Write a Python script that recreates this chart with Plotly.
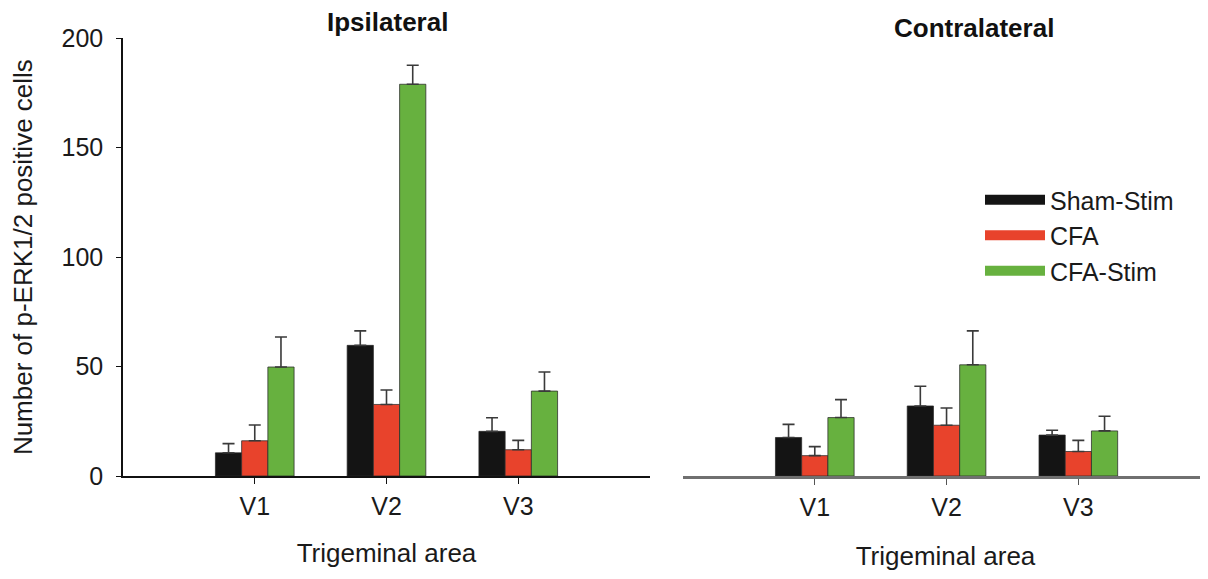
import plotly.graph_objects as go

areas = ["V1", "V2", "V3"]
series = ["Sham-Stim", "CFA", "CFA-Stim"]
colors = ["#141414", "#E8432C", "#67B13F"]

ipsi_values = {
    "Sham-Stim": [10.6, 59.7, 20.4],
    "CFA": [16.1, 32.7, 12.0],
    "CFA-Stim": [49.8, 179.0, 38.8],
}
ipsi_errors = {
    "Sham-Stim": [4.2, 6.6, 6.2],
    "CFA": [7.2, 6.6, 4.3],
    "CFA-Stim": [13.7, 8.7, 8.7],
}
contra_values = {
    "Sham-Stim": [17.6, 32.0, 18.7],
    "CFA": [9.3, 23.2, 11.2],
    "CFA-Stim": [26.7, 50.8, 20.6],
}
contra_errors = {
    "Sham-Stim": [6.0, 9.0, 2.2],
    "CFA": [4.1, 7.9, 5.1],
    "CFA-Stim": [8.2, 15.5, 6.7],
}
y_ticks = [0, 50, 100, 150, 200]

FONT = "Liberation Sans, Arial, sans-serif"
# page body has an 8px margin, so the figure is 8px smaller and coordinates are shifted
OFF = 8
W, H = 1208 - OFF, 579 - OFF


def px(x):
    return (x - OFF) / W


def py(y):
    return 1 - (y - OFF) / H


fig = go.Figure()

for panel, (vals, errs) in enumerate([(ipsi_values, ipsi_errors), (contra_values, contra_errors)]):
    xa = "x" if panel == 0 else "x2"
    ya = "y" if panel == 0 else "y2"
    for s, c in zip(series, colors):
        fig.add_trace(go.Bar(
            x=areas, y=vals[s], name=s, xaxis=xa, yaxis=ya,
            marker=dict(color=c, line=dict(color="rgba(40,40,40,0.75)", width=1)),
            error_y=dict(type="data", symmetric=False, array=errs[s],
                         arrayminus=[0] * len(errs[s]),
                         color="#3a3a3a", thickness=1.6, width=6),
            showlegend=False,
        ))

# legend entries
for s, c in zip(series, colors):
    fig.add_trace(go.Scatter(
        x=[None], y=[None], mode="lines", name=s,
        line=dict(color=c, width=10), xaxis="x2", yaxis="y2",
    ))

ydom = [py(476), py(38.3)]

fig.update_layout(
    width=W, height=H,
    margin=dict(l=0, r=0, t=0, b=0, autoexpand=False),
    paper_bgcolor="white", plot_bgcolor="white",
    font=dict(family=FONT, size=25, color="#1a1a1a"),
    barmode="group", bargap=0.403, bargroupgap=0,
    showlegend=True,
    legend=dict(x=px(980), y=py(177), xanchor="left", yanchor="top",
                font=dict(size=25, family=FONT, color="#1a1a1a"),
                itemwidth=60, tracegroupgap=0, bgcolor="rgba(0,0,0,0)"),
    xaxis=dict(domain=[px(123), px(650)], range=[-1, 3], type="category",
               automargin=False,
               showline=True, linecolor="#111111", linewidth=1.5,
               ticks="outside", ticklen=6, tickcolor="#111111", tickwidth=1.2,
               ticklabelstandoff=1, showgrid=False, zeroline=False,
               tickfont=dict(size=25),
               title=dict(text="Trigeminal area", standoff=25, font=dict(size=26))),
    yaxis=dict(domain=ydom, range=[0, 200], tickvals=y_ticks, automargin=False,
               showline=True, linecolor="#111111", linewidth=1.5,
               ticks="outside", ticklen=5, tickcolor="#111111", tickwidth=1.2,
               ticklabelstandoff=8, showgrid=False, zeroline=False,
               tickfont=dict(size=25),
               title=dict(text="Number of p-ERK1/2 positive cells", standoff=21,
                          font=dict(size=26))),
    xaxis2=dict(domain=[px(683), 1.0], range=[-1, 2.984], type="category",
                anchor="y2", automargin=False,
                showline=True, linecolor="#707070", linewidth=2.5,
                ticks="outside", ticklen=6, tickcolor="#555555", tickwidth=1.2,
                ticklabelstandoff=1, showgrid=False, zeroline=False,
                tickfont=dict(size=25),
                title=dict(text="Trigeminal area", standoff=28, font=dict(size=26))),
    yaxis2=dict(domain=ydom, range=[0, 200], anchor="x2", visible=False),
    annotations=[
        dict(text="<b>Ipsilateral</b>", x=px(387), y=py(22), xref="paper", yref="paper",
             xanchor="center", yanchor="middle",
             showarrow=False, font=dict(size=26, family=FONT, color="#111111")),
        dict(text="<b>Contralateral</b>", x=px(974), y=py(28), xref="paper", yref="paper",
             xanchor="center", yanchor="middle",
             showarrow=False, font=dict(size=26, family=FONT, color="#111111")),
    ],
)

fig.write_html("out.html")
